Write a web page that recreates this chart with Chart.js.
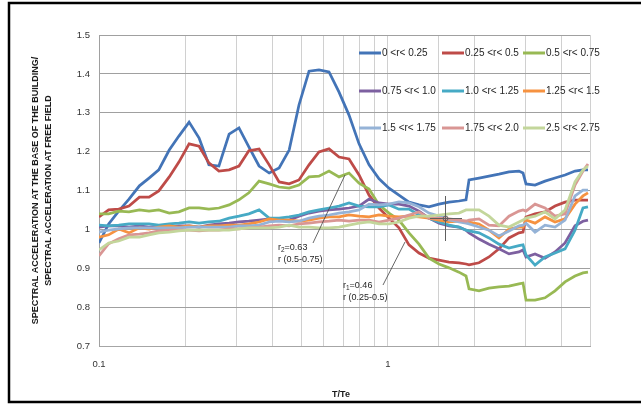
<!DOCTYPE html>
<html>
<head>
<meta charset="utf-8">
<script src="https://cdn.jsdelivr.net/npm/chart.js@4.4.0/dist/chart.umd.min.js"></script>
<style>
  html, body { margin: 0; padding: 0; background: #fff; }
  canvas { display: block; }
</style>
</head>
<body>
<canvas id="spectraChart" width="641" height="404"></canvas>
<script>
// T/Te sample points (shared by all curves)
const periods = [0.100, 0.108, 0.117, 0.127, 0.138, 0.149, 0.161, 0.175, 0.189, 0.205,
  0.222, 0.240, 0.260, 0.282, 0.305, 0.330, 0.358, 0.388, 0.420, 0.455,
  0.492, 0.533, 0.577, 0.625, 0.677, 0.733, 0.794, 0.860, 0.931, 1.008,
  1.091, 1.182, 1.280, 1.386, 1.501, 1.626, 1.760, 1.862, 1.907, 2.065,
  2.236, 2.421, 2.622, 2.839, 2.932, 3.003, 3.227, 3.494, 3.784, 4.098,
  4.437, 4.728, 4.920];

const seriesLabels = ['0 <r< 0.25', '0.25 <r< 0.5', '0.5 <r< 0.75',
  '0.75 <r< 1.0', '1.0 <r< 1.25', '1.25 <r< 1.5',
  '1.5 <r< 1.75', '1.75 <r< 2.0', '2.5 <r< 2.75'];

const r000_025 = [0.965, 1.014, 1.047, 1.078, 1.112, 1.132, 1.153, 1.204, 1.240, 1.276,
  1.235, 1.166, 1.163, 1.245, 1.261, 1.212, 1.163, 1.145, 1.158, 1.204,
  1.320, 1.407, 1.410, 1.405, 1.353, 1.294, 1.220, 1.166, 1.130, 1.106,
  1.088, 1.070, 1.063, 1.058, 1.065, 1.070, 1.073, 1.076, 1.127, 1.132,
  1.137, 1.142, 1.148, 1.150, 1.145, 1.117, 1.114, 1.124, 1.132, 1.140,
  1.150, 1.153, 1.153];
const r025_050 = [1.032, 1.050, 1.052, 1.060, 1.083, 1.083, 1.099, 1.135, 1.173, 1.220,
  1.214, 1.171, 1.150, 1.153, 1.163, 1.202, 1.207, 1.166, 1.122, 1.117,
  1.127, 1.166, 1.199, 1.207, 1.186, 1.181, 1.140, 1.088, 1.055, 1.029,
  1.004, 0.960, 0.939, 0.926, 0.921, 0.916, 0.914, 0.911, 0.909, 0.914,
  0.929, 0.950, 0.978, 0.991, 0.993, 1.032, 1.040, 1.045, 1.060, 1.070,
  1.075, 1.075, 1.075];
const r050_075 = [1.040, 1.040, 1.047, 1.045, 1.050, 1.047, 1.050, 1.042, 1.045, 1.055,
  1.055, 1.052, 1.055, 1.063, 1.076, 1.094, 1.124, 1.117, 1.109, 1.106,
  1.114, 1.135, 1.137, 1.150, 1.135, 1.145, 1.119, 1.104, 1.063, 1.042,
  1.024, 0.991, 0.962, 0.926, 0.911, 0.901, 0.890, 0.880, 0.847, 0.842,
  0.849, 0.852, 0.854, 0.860, 0.862, 0.818, 0.818, 0.824, 0.842, 0.865,
  0.880, 0.888, 0.890];
const r075_100 = [1.006, 1.009, 1.009, 1.006, 1.009, 1.006, 1.009, 1.006, 1.009, 1.009,
  1.006, 1.011, 1.014, 1.016, 1.019, 1.021, 1.024, 1.027, 1.024, 1.024,
  1.034, 1.042, 1.047, 1.050, 1.052, 1.055, 1.060, 1.078, 1.068, 1.065,
  1.065, 1.060, 1.047, 1.029, 1.016, 1.009, 1.006, 0.998, 0.991, 0.975,
  0.962, 0.950, 0.937, 0.942, 0.947, 0.929, 0.937, 0.926, 0.942, 0.965,
  1.009, 1.021, 1.024];
const r100_125 = [1.011, 1.009, 1.011, 1.014, 1.014, 1.014, 1.011, 1.014, 1.016, 1.019,
  1.016, 1.019, 1.021, 1.029, 1.034, 1.040, 1.050, 1.029, 1.029, 1.032,
  1.037, 1.045, 1.050, 1.055, 1.060, 1.068, 1.060, 1.058, 1.058, 1.063,
  1.052, 1.052, 1.037, 1.029, 1.019, 1.011, 1.006, 0.998, 0.996, 0.991,
  0.978, 0.962, 0.952, 0.958, 0.960, 0.934, 0.908, 0.929, 0.939, 0.950,
  0.998, 1.055, 1.058];
const r125_150 = [0.980, 0.986, 1.001, 0.991, 1.004, 1.001, 1.006, 1.009, 1.006, 1.009,
  1.006, 1.009, 1.009, 1.011, 1.011, 1.014, 1.019, 1.027, 1.024, 1.024,
  1.021, 1.024, 1.029, 1.032, 1.032, 1.037, 1.034, 1.032, 1.037, 1.034,
  1.032, 1.034, 1.032, 1.029, 1.024, 1.019, 1.021, 1.021, 1.019, 1.014,
  0.998, 0.978, 1.001, 1.006, 1.006, 1.024, 1.016, 1.032, 1.019, 1.027,
  1.065, 1.086, 1.094];
const r150_175 = [0.993, 0.998, 1.001, 1.004, 1.004, 1.004, 1.004, 1.004, 1.004, 1.006,
  1.006, 1.006, 1.006, 1.006, 1.009, 1.009, 1.011, 1.019, 1.021, 1.019,
  1.021, 1.029, 1.034, 1.037, 1.042, 1.045, 1.050, 1.065, 1.063, 1.065,
  1.071, 1.068, 1.058, 1.042, 1.034, 1.024, 1.019, 1.016, 1.014, 1.006,
  0.998, 0.983, 0.996, 1.009, 1.011, 1.016, 0.993, 1.011, 1.006, 1.024,
  1.086, 1.101, 1.101];
const r175_200 = [0.932, 0.963, 0.976, 0.986, 0.988, 0.991, 0.996, 0.998, 0.998, 0.998,
  0.996, 0.998, 0.998, 1.001, 1.001, 1.004, 1.006, 1.009, 1.011, 1.009,
  1.014, 1.016, 1.019, 1.021, 1.024, 1.021, 1.024, 1.024, 1.019, 1.024,
  1.029, 1.037, 1.045, 1.029, 1.029, 1.027, 1.024, 1.021, 1.024, 1.027,
  1.011, 1.009, 1.034, 1.047, 1.050, 1.047, 1.065, 1.055, 1.034, 1.040,
  1.114, 1.150, 1.168];
const r250_275 = [0.947, 0.965, 0.970, 0.980, 0.980, 0.986, 0.991, 0.993, 0.996, 0.998,
  0.998, 0.998, 0.998, 0.998, 1.001, 1.004, 1.004, 1.004, 1.006, 1.011,
  1.006, 1.006, 1.004, 1.004, 1.006, 1.011, 1.016, 1.019, 1.014, 1.014,
  1.019, 1.029, 1.034, 1.034, 1.037, 1.040, 1.042, 1.050, 1.050, 1.050,
  1.034, 1.011, 1.006, 1.019, 1.024, 1.029, 1.034, 1.045, 1.027, 1.050,
  1.122, 1.153, 1.163];

const yTicks = [0.7, 0.8, 0.9, 1, 1.1, 1.2, 1.3, 1.4, 1.5];
const xTickLabels = [0.1, 1];

const allSeries = [r000_025, r025_050, r050_075, r075_100, r100_125, r125_150, r150_175, r175_200, r250_275];
const lineColors = ['#4374B7', '#BE4B48', '#98B954', '#7D60A0', '#46AAC5', '#F69240', '#95B3D7', '#D99694', '#C3D69B'];

const FONT = '"Liberation Sans", Arial, sans-serif';
Chart.defaults.font.family = FONT;

// legend, axis titles, notes and frame
const decorations = {
  id: 'decorations',
  beforeDraw(chart) {
    const ctx = chart.ctx;
    ctx.save();
    ctx.fillStyle = '#fff';
    ctx.fillRect(0, 0, chart.width, chart.height);
    ctx.restore();
  },
  afterDraw(chart) {
    const ctx = chart.ctx;
    const area = chart.chartArea;
    ctx.save();

    // legend inside the plot, 3 x 3
    const colX = [359, 442, 523];
    const rowY = [53, 91, 128];
    ctx.font = '10px ' + FONT;
    ctx.textBaseline = 'middle';
    chart.data.datasets.forEach((ds, i) => {
      const x = colX[i % 3], y = rowY[Math.floor(i / 3)];
      ctx.strokeStyle = ds.borderColor;
      ctx.lineWidth = 3;
      ctx.beginPath();
      ctx.moveTo(x, y);
      ctx.lineTo(x + 22, y);
      ctx.stroke();
      ctx.fillStyle = '#262626';
      ctx.fillText(ds.label, x + 23, y + 0.5);
    });

    // axis titles
    ctx.fillStyle = '#1a1a1a';
    ctx.font = 'bold 9px ' + FONT;
    ctx.textAlign = 'center';
    const midY = (area.top + area.bottom) / 2;
    ctx.save();
    ctx.translate(36, midY);
    ctx.rotate(-Math.PI / 2);
    ctx.fillText('SPECTRAL ACCELERATION AT THE BASE OF THE BUILDING/', 0, 0);
    ctx.fillText('SPECTRAL ACCELERATION AT FREE FIELD', 0, 13);
    ctx.restore();
    ctx.font = 'bold 9px ' + FONT;
    ctx.fillText('T/Te', 341, 395);

    // correlation notes
    ctx.textAlign = 'left';
    ctx.fillStyle = '#262626';
    const note = (x, y, sub, value, range) => {
      ctx.font = '9px ' + FONT;
      ctx.fillText('r', x, y);
      const w = ctx.measureText('r').width;
      ctx.font = '6.5px ' + FONT;
      ctx.fillText(sub, x + w, y + 2);
      const w2 = ctx.measureText(sub).width;
      ctx.font = '9px ' + FONT;
      ctx.fillText('=' + value, x + w + w2, y);
      ctx.fillText(range, x, y + 12);
    };
    note(278, 248, '2', '0.63', 'r (0.5-0.75)');
    note(343, 286, '1', '0.46', 'r (0.25-0.5)');

    ctx.strokeStyle = '#404040';
    ctx.lineWidth = 0.8;
    ctx.beginPath();
    ctx.moveTo(313, 243); ctx.lineTo(345, 175);
    ctx.moveTo(383, 285); ctx.lineTo(405, 242);
    ctx.stroke();

    // cursor cross
    ctx.strokeStyle = '#606060';
    ctx.lineWidth = 1;
    ctx.beginPath();
    ctx.moveTo(445.5, 196); ctx.lineTo(445.5, 241);
    ctx.moveTo(430, 218.5); ctx.lineTo(462, 218.5);
    ctx.stroke();
    ctx.beginPath();
    ctx.arc(445.5, 218.5, 2.5, 0, Math.PI * 2);
    ctx.stroke();

    // outer frame
    ctx.strokeStyle = '#000';
    ctx.lineWidth = 2.5;
    ctx.beginPath();
    ctx.moveTo(641, 3); ctx.lineTo(9, 3); ctx.lineTo(9, 402); ctx.lineTo(641, 402);
    ctx.stroke();

    ctx.restore();
  }
};

new Chart(document.getElementById('spectraChart'), {
  type: 'line',
  data: {
    datasets: allSeries.map((vals, i) => ({
      label: seriesLabels[i],
      data: vals.map((v, k) => ({ x: periods[k], y: v })),
      borderColor: lineColors[i],
      backgroundColor: lineColors[i],
      borderWidth: 2.75,
      pointRadius: 0,
      tension: 0,
      fill: false,
      order: allSeries.length - i
    }))
  },
  options: {
    responsive: false,
    animation: false,
    layout: { padding: { left: 10, top: 35, right: 51, bottom: 28 } },
    plugins: { legend: { display: false }, tooltip: { enabled: false } },
    scales: {
      x: {
        type: 'logarithmic',
        min: 0.1,
        max: 5,
        afterFit(scale) { scale.height = 30; },
        grid: { color: '#d0d0d0', drawTicks: false },
        border: { color: '#a6a6a6' },
        ticks: {
          autoSkip: false,
          maxRotation: 0,
          padding: 13,
          color: '#333',
          font: { size: 9.5 },
          callback(value) {
            const hit = xTickLabels.find(t => Math.abs(t - value) < 1e-9);
            return hit !== undefined ? String(hit) : '';
          }
        }
      },
      y: {
        min: yTicks[0],
        max: yTicks[yTicks.length - 1],
        afterFit(scale) { scale.width = 89; },
        afterBuildTicks(scale) { scale.ticks = yTicks.map(v => ({ value: v })); },
        grid: { color: '#a0a0a0', drawTicks: false },
        border: { color: '#a0a0a0' },
        ticks: {
          padding: 9,
          color: '#333',
          font: { size: 9.5 },
          callback(value) { return String(Math.round(value * 10) / 10); }
        }
      }
    }
  },
  plugins: [decorations]
});
</script>
</body>
</html>
